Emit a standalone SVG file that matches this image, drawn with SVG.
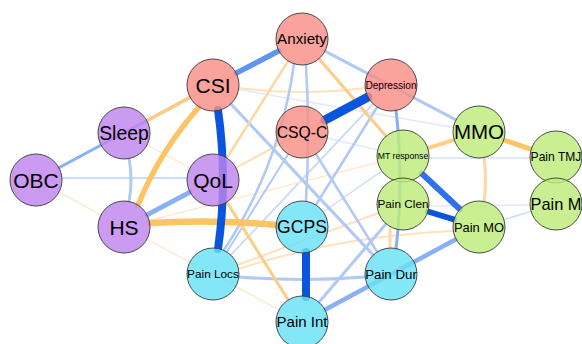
<svg xmlns="http://www.w3.org/2000/svg" width="582" height="344" viewBox="0 0 582 344">
<style>
.e{fill:none;stroke-linecap:round}
.b1{stroke:#0b55de}
.b2{stroke:#2f72ea}
.b3{stroke:#5f95f0}
.b4{stroke:#88b0f4}
.b5{stroke:#b0c9f7}
.b6{stroke:#cbdbf9}
.b7{stroke:#e0e9fc}
.o1{stroke:#fdc466}
.o2{stroke:#fdcd84}
.o3{stroke:#fdd8a4}
.o4{stroke:#fee2bd}
.o5{stroke:#feeacf}
.n circle{stroke:#3a3a3a;stroke-width:0.9;fill-opacity:0.82}
.red circle{fill:#f98e86}
.pur circle{fill:#c084ee}
.cya circle{fill:#68e2f7}
.grn circle{fill:#bdec7a}
.n text{font-family:"Liberation Sans",Arial,sans-serif;fill:#000;text-anchor:middle}
</style>
<rect width="582" height="344" fill="#fff"/>
<g id="edges">
<path class="e b7" stroke-width="1.5" d="M238.6,89.5 L453.4,127.5"/>
<path class="e b6" stroke-width="2" d="M62,178 L187,178"/>
<path class="e b7" stroke-width="2" d="M429,158 L530,158"/>
<path class="e b7" stroke-width="1.5" d="M429,206 L530,205"/>
<path class="e b6" stroke-width="1.5" d="M503.9,219.6 L531.1,211.4"/>
<path class="e b7" stroke-width="1.5" d="M235.9,167.6 L279.1,144.4"/>
<path class="e b6" stroke-width="1.5" d="M323.3,212 L381.7,171"/>
<path class="e b7" stroke-width="1.5" d="M327.3,138 L377.7,150"/>
<path class="e b6" stroke-width="2" d="M373.2,103.9 L230.8,255.1"/>
<path class="e o5" stroke-width="1.5" d="M146.9,239.2 L279.1,309.8"/>
<path class="e o5" stroke-width="1.5" d="M58.9,192.2 L101.1,214.8"/>
<path class="e o5" stroke-width="1.5" d="M279.1,144.2 L146.9,214.8"/>
<path class="e o5" stroke-width="1.5" d="M149.2,220.6 L377.8,162.4"/>
<path class="e o5" stroke-width="1.5" d="M147,145.1 L190,167.9"/>
<path class="e o4" stroke-width="2" d="M147,120.9 L279,51.1"/>
<path class="e o4" stroke-width="2" d="M239,88 Q302,96 365,88"/>
<path class="e o4" stroke-width="2" d="M235.9,167.8 L368.1,97.2"/>
<path class="e o4" stroke-width="2" d="M237.4,265 L378.6,213"/>
<path class="e o4" stroke-width="2" d="M238,269 Q340,236 453,231"/>
<path class="e b5" stroke-width="2" d="M226.8,252 L288.2,154"/>
<path class="e b5" stroke-width="2.5" d="M315.8,154 L377.2,252"/>
<path class="e b5" stroke-width="2.5" d="M377.2,107 L315.8,205"/>
<path class="e b5" stroke-width="2.5" d="M294,64 Q280,165 224,250"/>
<path class="e b5" stroke-width="2.5" d="M306,65 Q310,132 306,201"/>
<path class="e b5" stroke-width="3" d="M230.8,103.9 L373.2,255.1"/>
<path class="e b5" stroke-width="3" d="M318.9,302.2 L386.1,223.8"/>
<path class="e b5" stroke-width="3" d="M239,277 Q302,282 365,277"/>
<path class="e b5" stroke-width="3" d="M325,51.1 L456,119.9"/>
<path class="e b5" stroke-width="3" d="M129,158 Q133,180 129,202"/>
<path class="e b4" stroke-width="3" d="M58.9,167.7 L190.1,97.3"/>
<path class="e b4" stroke-width="3" d="M396,110 Q404,180 396,249"/>
<path class="e o3" stroke-width="3" d="M390,229 L390,249"/>
<path class="e o3" stroke-width="2.5" d="M288.1,61 L226.9,158"/>
<path class="e o3" stroke-width="3" d="M484,157 Q487,180 484,203"/>
<path class="e o2" stroke-width="3" d="M319,58.7 L386,136.3"/>
<path class="e o2" stroke-width="3" d="M226.8,202 L288.2,300"/>
<path class="e o2" stroke-width="3.5" d="M146.9,120.7 L190.1,97.4"/>
<path class="e o2" stroke-width="4" d="M427.8,148.2 L454.2,139.8"/>
<path class="e o1" stroke-width="5" d="M503.7,140 L531.3,149.3"/>
<path class="e o1" stroke-width="5.5" d="M199,107 Q160,151 138,205"/>
<path class="e o1" stroke-width="6.5" d="M150,223 Q213,219 276,225"/>
<path class="e b4" stroke-width="4.5" d="M324.9,309.7 L456.1,239.3"/>
<path class="e b4" stroke-width="5" d="M147,214.9 L190,192.1"/>
<path class="e b3" stroke-width="5.5" d="M278.9,50.9 L236.1,73.1"/>
<path class="e b2" stroke-width="6" d="M422,173.8 L460,209.2"/>
<path class="e b1" stroke-width="6" d="M427.9,211.5 L454.1,219.5"/>
<path class="e b1" stroke-width="9" d="M325,119.9 L368,97.1"/>
<path class="e b1" stroke-width="8" d="M306,252 L306,297"/>
<path class="e b1" stroke-width="8" d="M218,110 Q228,180 218,249"/>
</g>
<g id="node-Anxiety" class="n red"><circle cx="302" cy="39" r="26"/><text x="302" y="44.4" font-size="15.2">Anxiety</text></g>
<g id="node-CSI" class="n red"><circle cx="213" cy="85" r="26"/><text x="213" y="92.5" font-size="21">CSI</text></g>
<g id="node-Depression" class="n red"><circle cx="391" cy="85" r="26"/><text x="391" y="88.6" font-size="10.1">Depression</text></g>
<g id="node-CSQ-C" class="n red"><circle cx="302" cy="132" r="26"/><text x="302" y="137.6" font-size="15.7">CSQ-C</text></g>
<g id="node-Sleep" class="n pur"><circle cx="124" cy="133" r="26"/><text x="124" y="140" font-size="19.4">Sleep</text></g>
<g id="node-OBC" class="n pur"><circle cx="36" cy="180" r="26"/><text x="36" y="187.5" font-size="21">OBC</text></g>
<g id="node-QoL" class="n pur"><circle cx="213" cy="180" r="26"/><text x="213" y="187.5" font-size="21">QoL</text></g>
<g id="node-HS" class="n pur"><circle cx="124" cy="227" r="26"/><text x="124" y="234.5" font-size="21">HS</text></g>
<g id="node-GCPS" class="n cya"><circle cx="302" cy="227" r="26"/><text x="302" y="233.3" font-size="17.6">GCPS</text></g>
<g id="node-PainLocs" class="n cya"><circle cx="213" cy="274" r="26"/><text x="213" y="278.2" font-size="11.8">Pain Locs</text></g>
<g id="node-PainDur" class="n cya"><circle cx="391" cy="274" r="26"/><text x="391" y="278.8" font-size="13.3">Pain Dur</text></g>
<g id="node-PainInt" class="n cya"><circle cx="302" cy="322" r="26"/><text x="302" y="327.4" font-size="15">Pain Int</text></g>
<g id="node-MMO" class="n grn"><circle cx="479" cy="132" r="26"/><text x="479" y="139.3" font-size="20.5">MMO</text></g>
<g id="node-MTresponse" class="n grn"><circle cx="403" cy="156" r="26"/><text x="403" y="159.1" font-size="8.7">MT response</text></g>
<g id="node-PainClen" class="n grn"><circle cx="403" cy="204" r="26"/><text x="403" y="208.2" font-size="11.8">Pain Clen</text></g>
<g id="node-PainMO" class="n grn"><circle cx="479" cy="227" r="26"/><text x="479" y="231.6" font-size="12.9">Pain MO</text></g>
<g id="node-PainTMJ" class="n grn"><circle cx="556" cy="157" r="26"/><text x="556" y="161.3" font-size="12.1">Pain TMJ</text></g>
<g id="node-PainM" class="n grn"><circle cx="556" cy="204" r="26"/><text x="556" y="209.9" font-size="16.4">Pain M</text></g>
</svg>
